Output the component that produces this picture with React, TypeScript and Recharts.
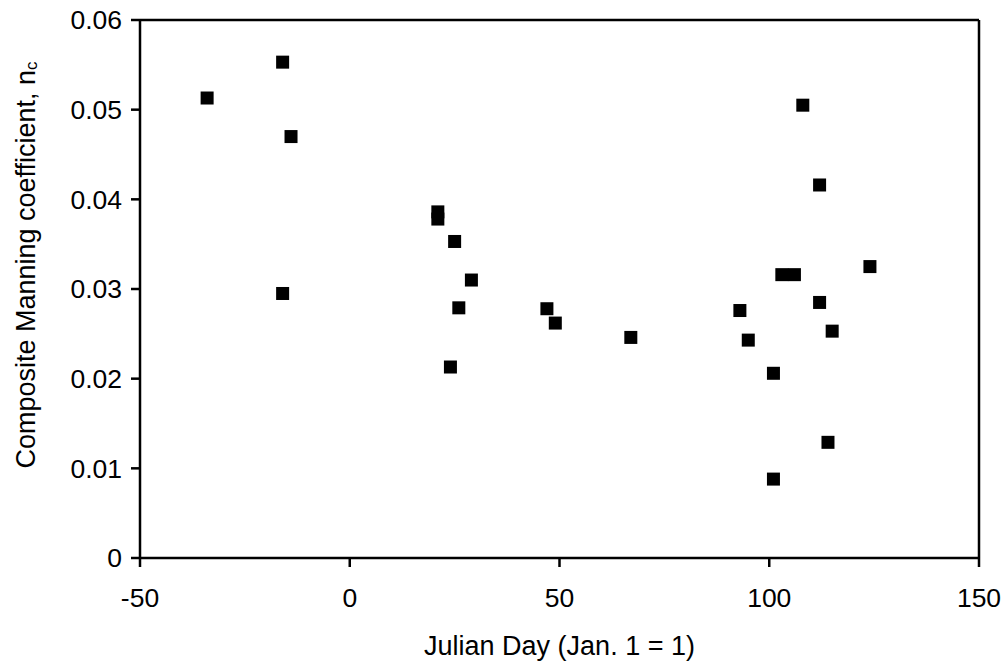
import React from 'react';
import { ScatterChart, Scatter, XAxis, YAxis, ReferenceLine, Label } from 'recharts';

// Julian day vs composite Manning coefficient
const julianDays = [-34, -16, -14, -16, 21, 21, 25, 29, 26, 24, 47, 49, 67, 93, 95, 101, 101, 103, 106, 108, 112, 112, 114, 115, 124];
const manningN = [
  0.0513, 0.0553, 0.047, 0.0295, 0.0386, 0.0378, 0.0353, 0.031, 0.0279, 0.0213, 0.0278, 0.0262, 0.0246,
  0.0276, 0.0243, 0.0206, 0.0088, 0.0316, 0.0316, 0.0505, 0.0416, 0.0285, 0.0129, 0.0253, 0.0325
];
const xTicks = [-50, 0, 50, 100, 150];
const yTicks = [0, 0.01, 0.02, 0.03, 0.04, 0.05, 0.06];

const points = julianDays.map((d, i) => ({ day: d, n: manningN[i] }));

const FONT = '"Liberation Sans", Arial, sans-serif';
const tickStyle = { fill: '#000', fontSize: 26.5, fontFamily: FONT };

const SquareMarker = (props: any) => {
  const { cx, cy } = props;
  return <rect x={cx - 6.5} y={cy - 6.5} width={13} height={13} fill="#000" />;
};

const YTitle = (props: any) => {
  const { viewBox } = props;
  const cx = 26;
  const cy = viewBox.y + viewBox.height / 2 - 24;
  return (
    <text
      x={cx}
      y={cy}
      transform={`rotate(-90, ${cx}, ${cy})`}
      textAnchor="middle"
      dominantBaseline="central"
      fontSize={27}
      fontFamily={FONT}
      fill="#000"
    >
      Composite Manning coefficient, n
      <tspan fontSize={17} dy={5}>c</tspan>
    </text>
  );
};

export default function App() {
  return (
    <div style={{ position: 'absolute', left: 0, top: 0, width: 1007, height: 662, background: '#fff' }}>
      <ScatterChart width={1007} height={662} margin={{ top: 20, right: 28, bottom: 0, left: 0 }}>
        <XAxis
          type="number"
          dataKey="day"
          domain={[-50, 150]}
          ticks={xTicks}
          height={104}
          axisLine={{ stroke: '#000', strokeWidth: 2.5 }}
          tickLine={{ stroke: '#000', strokeWidth: 2.5 }}
          tickSize={9}
          tickMargin={21}
          tick={tickStyle}
        >
          <Label
            value="Julian Day (Jan. 1 = 1)"
            position="insideBottom"
            offset={7}
            style={{ fill: '#000', fontSize: 27, fontFamily: FONT }}
          />
        </XAxis>
        <YAxis
          type="number"
          dataKey="n"
          domain={[0, 0.06]}
          ticks={yTicks}
          width={140}
          axisLine={{ stroke: '#000', strokeWidth: 2.5 }}
          tickLine={{ stroke: '#000', strokeWidth: 2.5 }}
          tickSize={9}
          tickMargin={9}
          tick={tickStyle}
          tickFormatter={(v: number) => (v === 0 ? '0' : v.toFixed(2))}
        >
          <Label content={<YTitle />} />
        </YAxis>
        <ReferenceLine y={0.06} stroke="#000" strokeWidth={2.5} />
        <ReferenceLine x={150} stroke="#000" strokeWidth={2.5} />
        <Scatter data={points} fill="#000" shape={<SquareMarker />} isAnimationActive={false} />
      </ScatterChart>
    </div>
  );
}
